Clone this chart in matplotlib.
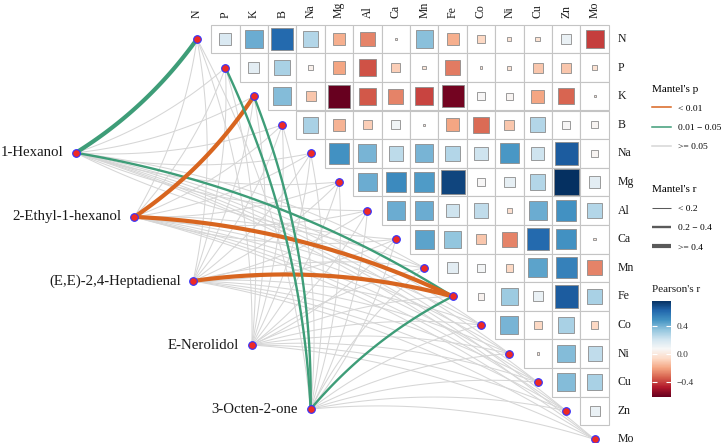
import numpy as np
import matplotlib
matplotlib.use('Agg')
import matplotlib.pyplot as plt
from matplotlib.patches import Rectangle
from matplotlib.lines import Line2D
from matplotlib.colors import Normalize
import matplotlib.cm as cm

plt.rcParams['font.family'] = ['Liberation Serif', 'DejaVu Serif']

# ---------------- data ----------------
elements = ['N', 'P', 'K', 'B', 'Na', 'Mg', 'Al', 'Ca', 'Mn', 'Fe', 'Co', 'Ni', 'Cu', 'Zn', 'Mo']

# Pearson's r, upper triangle, row by row (columns to the right of the diagonal)
r_N = [0.18, 0.42, 0.62, 0.28, -0.18, -0.27, -0.008, 0.37, -0.18, -0.07, -0.02, -0.03, 0.12, -0.41]
r_P = [0.15, 0.30, 0.04, -0.20, -0.37, -0.10, -0.015, -0.29, -0.01, -0.02, -0.12, -0.12, -0.03]
r_K = [0.38, -0.12, -0.625, -0.36, -0.27, -0.40, -0.60, 0.07, 0.06, -0.20, -0.33, -0.005]
r_B = [0.30, -0.17, -0.10, 0.10, 0.008, -0.20, -0.32, -0.12, 0.28, 0.07, 0.06]
r_Na = [0.50, 0.40, 0.26, 0.40, 0.28, 0.22, 0.48, 0.22, 0.66, 0.06]
r_Mg = [0.42, 0.52, 0.47, 0.72, 0.07, 0.14, 0.28, 0.775, 0.15]
r_Al = [0.42, 0.42, 0.22, 0.25, -0.04, 0.42, 0.50, 0.28]
r_Ca = [0.45, 0.35, -0.12, -0.27, 0.62, 0.50, -0.008]
r_Mn = [0.15, 0.09, -0.07, 0.45, 0.55, -0.27]
r_Fe = [0.05, 0.33, 0.12, 0.66, 0.30]
r_Co = [0.40, -0.07, 0.30, -0.07]
r_Ni = [-0.008, 0.38, 0.25]
r_Cu = [0.38, 0.30]
r_Zn = [0.12]
pearson_rows = [r_N, r_P, r_K, r_B, r_Na, r_Mg, r_Al, r_Ca, r_Mn, r_Fe, r_Co, r_Ni, r_Cu, r_Zn]

# Mantel test: volatile compounds vs elements
compounds = ['1-Hexanol', '2-Ethyl-1-hexanol', '(E,E)-2,4-Heptadienal', 'E-Nerolidol', '3-Octen-2-one']
#                       N     P     K     B     Na    Mg    Al    Ca    Mn    Fe    Co    Ni    Cu    Zn    Mo
mantel_r_hexanol   = [0.45, 0.12, 0.10, 0.08, 0.06, 0.05, 0.09, 0.07, 0.11, 0.30, 0.04, 0.05, 0.08, 0.06, 0.03]
mantel_p_hexanol   = [0.02, 0.21, 0.30, 0.42, 0.55, 0.61, 0.35, 0.47, 0.18, 0.03, 0.72, 0.66, 0.39, 0.58, 0.81]
mantel_r_ethylhex  = [0.10, 0.13, 0.45, 0.07, 0.05, 0.09, 0.11, 0.06, 0.12, 0.45, 0.04, 0.08, 0.06, 0.05, 0.03]
mantel_p_ethylhex  = [0.28, 0.15, 0.004, 0.52, 0.63, 0.33, 0.24, 0.57, 0.12, 0.002, 0.74, 0.45, 0.59, 0.66, 0.88]
mantel_r_heptadien = [0.08, 0.10, 0.12, 0.06, 0.05, 0.07, 0.09, 0.08, 0.11, 0.45, 0.05, 0.04, 0.06, 0.05, 0.02]
mantel_p_heptadien = [0.41, 0.27, 0.11, 0.58, 0.66, 0.49, 0.33, 0.44, 0.16, 0.006, 0.69, 0.77, 0.61, 0.70, 0.92]
mantel_r_nerolidol = [0.06, 0.05, 0.07, 0.04, 0.03, 0.05, 0.06, 0.04, 0.05, 0.08, 0.03, 0.04, 0.05, 0.03, 0.02]
mantel_p_nerolidol = [0.55, 0.62, 0.48, 0.71, 0.80, 0.64, 0.57, 0.74, 0.66, 0.36, 0.83, 0.78, 0.69, 0.85, 0.93]
mantel_r_octenone  = [0.09, 0.30, 0.30, 0.07, 0.05, 0.06, 0.08, 0.07, 0.10, 0.30, 0.05, 0.04, 0.06, 0.05, 0.03]
mantel_p_octenone  = [0.22, 0.02, 0.02, 0.47, 0.61, 0.56, 0.38, 0.50, 0.19, 0.03, 0.71, 0.75, 0.58, 0.64, 0.86]
mantel_r = [mantel_r_hexanol, mantel_r_ethylhex, mantel_r_heptadien, mantel_r_nerolidol, mantel_r_octenone]
mantel_p = [mantel_p_hexanol, mantel_p_ethylhex, mantel_p_heptadien, mantel_p_nerolidol, mantel_p_octenone]

p_labels = ['< 0.01', '0.01 \u2212 0.05', '>= 0.05']
p_colors = ['#D8651F', '#3E9D78', '#D6D6D6']
r_labels = ['< 0.2', '0.2 \u2212 0.4', '>= 0.4']
r_widths = [0.75, 1.7, 3.0]

# ---------------- layout ----------------
W, H = 723, 443
fig = plt.figure(figsize=(W / 100, H / 100), dpi=100)
ax = fig.add_axes([0, 0, 1, 1])
cw, ch = 28.4, 28.6
x0, y0 = 197.0, 39.0
ax.set_xlim(-x0 / cw, (W - x0) / cw)
ax.set_ylim((H - y0) / ch, -y0 / ch)
ax.axis('off')

n = len(elements)
all_r = np.concatenate([np.array(r) for r in pearson_rows])
norm = Normalize(vmin=all_r.min(), vmax=all_r.max())
cmap = plt.get_cmap('RdBu')

# grid and squares
for i, row in enumerate(pearson_rows):
    for k, val in enumerate(row):
        j = i + 1 + k
        ax.add_patch(Rectangle((j - 0.5, i - 0.5), 1, 1, facecolor='white',
                               edgecolor='#c4c4c4', lw=0.8, zorder=3))
for i, row in enumerate(pearson_rows):
    for k, val in enumerate(row):
        j = i + 1 + k
        s = np.sqrt(abs(val))
        ax.add_patch(Rectangle((j - s / 2, i - s / 2), s, s, facecolor=cmap(norm(val)),
                               edgecolor='#8c8c8c', lw=0.6, zorder=4))

# labels
for j, el in enumerate(elements):
    ax.text(j, -0.75, el, rotation=90, ha='center', va='bottom', fontsize=8.5, color='#1a1a1a')
    ax.text(14.81, j, el, ha='left', va='center', fontsize=8.5, color='#1a1a1a')

# source nodes positions along a line
src_start = np.array([-4.27, 3.98])
src_end = np.array([4.0, 12.94])
tt = np.linspace(0, 1, len(compounds))
src = src_start[None, :] + tt[:, None] * (src_end - src_start)[None, :]
tgt = np.array([[j, j] for j in range(n)], dtype=float)


def p_color(p):
    if p < 0.01:
        return p_colors[0]
    if p < 0.05:
        return p_colors[1]
    return p_colors[2]


def r_width(r):
    if r < 0.2:
        return r_widths[0]
    if r < 0.4:
        return r_widths[1]
    return r_widths[2]


tb = np.linspace(0, 1, 80)[:, None]
links = []
for a in range(len(compounds)):
    for b in range(n):
        links.append((mantel_p[a][b] < 0.05, a, b))
links.sort(key=lambda z: z[0])
for sig, a, b in links:
    S = src[a]
    T = tgt[b]
    d = T - S
    nvec = np.array([-d[1], d[0]]) if b <= 7 else np.array([d[1], -d[0]])
    C = (S + T) / 2 + 0.1 * nvec
    pts = (1 - tb) ** 2 * S + 2 * (1 - tb) * tb * C + tb ** 2 * T
    ax.plot(pts[:, 0], pts[:, 1], color=p_color(mantel_p[a][b]),
            lw=r_width(mantel_r[a][b]), solid_capstyle='butt',
            zorder=2 if sig else 1)

# nodes
ax.plot(tgt[:, 0], tgt[:, 1], 'o', ms=5.5, mfc='#EE2A24', mec='#3333FF', mew=0.8, zorder=6)
ax.plot(src[:, 0], src[:, 1], 'o', ms=5.5, mfc='#EE2A24', mec='#3333FF', mew=0.8, zorder=6)
for a, name in enumerate(compounds):
    ax.annotate(name, (src[a, 0], src[a, 1]), xytext=(-9, 0), textcoords='offset points',
                ha='right', va='center', fontsize=10.7, color='#1a1a1a')

# legends
leg_kw = dict(loc='upper left', bbox_transform=fig.transFigure, frameon=False,
              fontsize=6.8, title_fontsize=8, handlelength=2.0, handletextpad=0.8,
              labelspacing=1.12, borderpad=0, borderaxespad=0, alignment='left')
h1 = [Line2D([], [], color=c, lw=1.1) for c in p_colors]
leg1 = ax.legend(h1, p_labels, title="Mantel's p", bbox_to_anchor=(652 / W, 1 - 84.5 / H), **leg_kw)
ax.add_artist(leg1)
h2 = [Line2D([], [], color='#5a5a5a', lw=w, solid_capstyle='butt') for w in r_widths]
leg2 = ax.legend(h2, r_labels, title="Mantel's r", bbox_to_anchor=(652 / W, 1 - 185 / H), **leg_kw)

# colorbar
fig.text(652 / W, 1 - 289 / H, "Pearson's r", ha='left', va='center', fontsize=8, color='#1a1a1a')
cax = fig.add_axes([651.7 / W, 1 - 397 / H, 19 / W, 96.3 / H])
sm = cm.ScalarMappable(norm=norm, cmap=cmap)
cb = fig.colorbar(sm, cax=cax, ticks=[-0.4, 0.0, 0.4])
cb.outline.set_visible(False)
cb.ax.set_yticklabels(['\u22120.4', '0.0', '0.4'])
cax.yaxis.set_ticks_position('both')
cax.tick_params(axis='y', direction='in', length=3.5, width=0.8, color='white',
                labelcolor='#333333', labelsize=6.8, pad=4, labelleft=False, labelright=True)

fig.savefig('out.png', dpi=100)
